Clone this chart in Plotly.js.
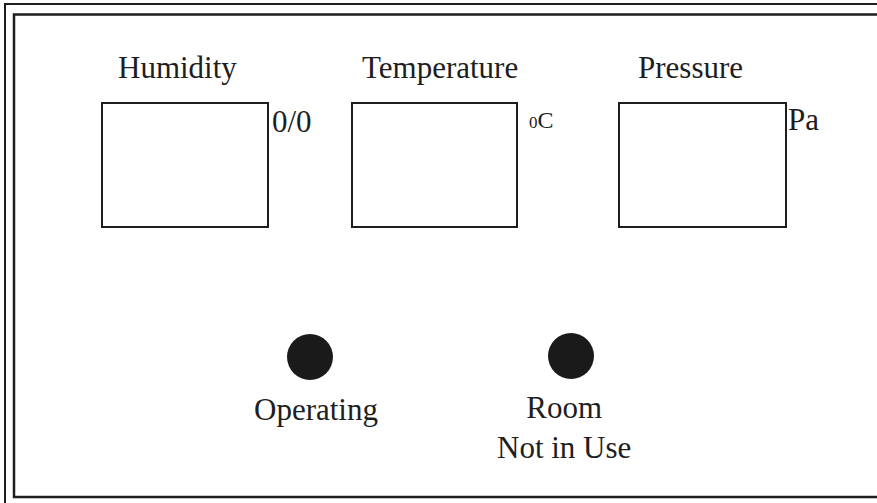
<!DOCTYPE html>
<html>
<head>
<meta charset="utf-8">
<script src="https://cdn.plot.ly/plotly-3.0.1.min.js"></script>
<style>html,body{margin:0;padding:0;background:#fff;}#chart{width:877px;height:503px;}</style>
</head>
<body>
<div id="chart"></div>
<script>
// ---- content ----
const panelLabels = ["Humidity", "Temperature", "Pressure"];
const panelUnits = ["0/0", "<span style=\"font-size:17px\">0</span>C", "Pa"];
const indicatorLabels = ["Operating", "Room<br>Not in Use"];

// ---- layout (pixel geometry) ----
const boxX0 = [102, 352, 619];
const boxX1 = [268, 517, 786];
const boxTop = 103, boxBottom = 227;
const labelCx = [177, 440, 690];
const labelY = 67;
const unitX = [270, 527, 786];
const unitY = [121, 120, 119];
const unitSize = [31, 24, 31];
const indX = [310, 571];
const indY = [357, 356];
const indLabelX = [316, 564];

const ink = "#1e1e1e";
const font = "Liberation Serif, Times New Roman, serif";

const shapes = [
  {type: "rect", x0: 5, y0: 4, x1: 900, y1: 520, line: {color: ink, width: 2}},
  {type: "rect", x0: 14, y0: 14.5, x1: 900, y1: 497, line: {color: ink, width: 2.5}}
];
for (let i = 0; i < panelLabels.length; i++) {
  shapes.push({type: "rect", x0: boxX0[i], x1: boxX1[i], y0: boxTop, y1: boxBottom,
    line: {color: ink, width: 2}});
}

const annotations = [];
panelLabels.forEach((t, i) => annotations.push({x: labelCx[i], y: labelY, text: t,
  xanchor: "center", yanchor: "middle", showarrow: false, font: {family: font, size: 31, color: ink}}));
panelUnits.forEach((t, i) => annotations.push({x: unitX[i], y: unitY[i], text: t,
  xanchor: "left", yanchor: "middle", showarrow: false, font: {family: font, size: unitSize[i], color: ink}}));
annotations.push({x: indLabelX[0], y: 409, text: indicatorLabels[0], xanchor: "center", yanchor: "middle",
  showarrow: false, font: {family: font, size: 31, color: ink}});
annotations.push({x: indLabelX[1], y: 427, text: indicatorLabels[1], xanchor: "center", yanchor: "middle",
  showarrow: false, font: {family: font, size: 31, color: ink}});

const trace = {x: indX, y: indY, mode: "markers", type: "scatter", hoverinfo: "skip",
  marker: {size: 46, color: "#1a1a1a", line: {width: 0}}};

Plotly.newPlot("chart", [trace], {
  width: 877, height: 503,
  margin: {l: 0, r: 0, t: 0, b: 0},
  paper_bgcolor: "#fff", plot_bgcolor: "#fff",
  showlegend: false,
  xaxis: {range: [0, 877], visible: false, fixedrange: true},
  yaxis: {range: [503, 0], visible: false, fixedrange: true},
  shapes: shapes,
  annotations: annotations
}, {staticPlot: true});
</script>
</body>
</html>
